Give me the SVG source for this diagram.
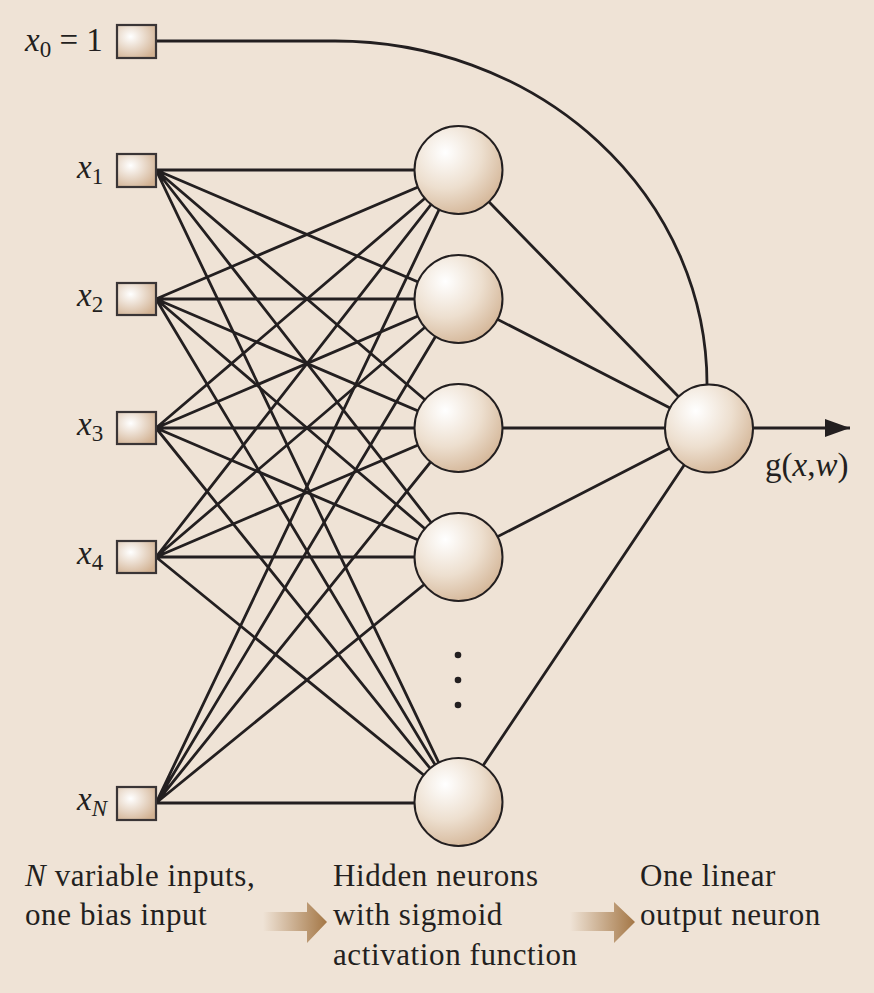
<svg xmlns="http://www.w3.org/2000/svg" width="874" height="993" viewBox="0 0 874 993">
<defs>
<radialGradient id="boxG" cx="0.35" cy="0.35" r="0.75">
<stop offset="0" stop-color="#ffffff"/>
<stop offset="1" stop-color="#d2b293"/>
</radialGradient>
<radialGradient id="ballG" cx="0.35" cy="0.3" r="0.75" fx="0.35" fy="0.3">
<stop offset="0" stop-color="#ffffff"/>
<stop offset="0.55" stop-color="#eddfcf"/>
<stop offset="1" stop-color="#d4b698"/>
</radialGradient>
<linearGradient id="arrG" x1="0" y1="0" x2="1" y2="0">
<stop offset="0" stop-color="#efe3d6"/>
<stop offset="1" stop-color="#a47746"/>
</linearGradient>
<marker id="ah" viewBox="0 0 25 18" refX="25" refY="9" markerWidth="25" markerHeight="18" markerUnits="userSpaceOnUse" orient="auto">
<path d="M0,0 L25,9 L0,18 z" fill="#231f20"/>
</marker>
<style>
.ln{stroke:#231f20;stroke-width:2.8;fill:none}
.box{fill:url(#boxG);stroke:#3a3536;stroke-width:2.2}
.ball{fill:url(#ballG);stroke:#231f20;stroke-width:2}
.lbl{font-family:"Liberation Serif","Times New Roman",serif;font-style:italic;font-size:33px;fill:#231f20}
.sub{font-family:"Liberation Serif","Times New Roman",serif;font-style:normal;font-size:23px}
.txt{font-family:"Liberation Serif","Times New Roman",serif;font-size:31px;letter-spacing:0.6px;fill:#231f20}
</style>
</defs>
<rect width="874" height="993" fill="#efe3d6"/>
<g id="connectors">
<path class="ln" d="M156,41 H335 A372,343 0 0 1 707,384"/>
<path class="ln" d="M156,170 L458,170 M156,170 L458,299 M156,170 L458,428 M156,170 L458,557 M156,170 L458,803"/>
<path class="ln" d="M156,299 L458,170 M156,299 L458,299 M156,299 L458,428 M156,299 L458,557 M156,299 L458,803"/>
<path class="ln" d="M156,428 L458,170 M156,428 L458,299 M156,428 L458,428 M156,428 L458,557 M156,428 L458,803"/>
<path class="ln" d="M156,557 L458,170 M156,557 L458,299 M156,557 L458,428 M156,557 L458,557 M156,557 L458,803"/>
<path class="ln" d="M156,803 L458,170 M156,803 L458,299 M156,803 L458,428 M156,803 L458,557 M156,803 L458,803"/>
<path class="ln" d="M458,170 L709,428 M458,299 L709,428 M458,428 L709,428 M458,557 L709,428 M458,803 L709,428"/>
<path class="ln" d="M753,428 L850,428" marker-end="url(#ah)"/>
</g>
<g id="in0"><rect class="box" x="117" y="25" width="39" height="33"/><text class="lbl" x="25" y="51">x<tspan class="sub" dy="6">0</tspan><tspan dy="-6" style="font-style:normal"> = 1</tspan></text></g>
<g id="in1"><rect class="box" x="117" y="154" width="39" height="33"/><text class="lbl" x="77" y="178">x<tspan class="sub" dy="6">1</tspan></text></g>
<g id="in2"><rect class="box" x="117" y="283" width="39" height="32"/><text class="lbl" x="77" y="306">x<tspan class="sub" dy="6">2</tspan></text></g>
<g id="in3"><rect class="box" x="117" y="412" width="39" height="32"/><text class="lbl" x="77" y="435">x<tspan class="sub" dy="6">3</tspan></text></g>
<g id="in4"><rect class="box" x="117" y="541" width="39" height="32"/><text class="lbl" x="77" y="564">x<tspan class="sub" dy="6">4</tspan></text></g>
<g id="inN"><rect class="box" x="117" y="787" width="39" height="33"/><text class="lbl" x="77" y="810">x<tspan class="sub" dy="6" style="font-style:italic">N</tspan></text></g>
<g id="h1"><circle class="ball" cx="458.5" cy="170" r="44"/></g>
<g id="h2"><circle class="ball" cx="458.5" cy="299" r="44"/></g>
<g id="h3"><circle class="ball" cx="458.5" cy="428" r="44"/></g>
<g id="h4"><circle class="ball" cx="458.5" cy="557" r="44"/></g>
<g id="dots" fill="#231f20"><circle cx="458" cy="655" r="3.3"/><circle cx="458" cy="680" r="3.3"/><circle cx="458" cy="705" r="3.3"/></g>
<g id="hN"><circle class="ball" cx="458.5" cy="802" r="44"/></g>
<g id="out"><circle class="ball" cx="709" cy="428.5" r="44"/><text class="lbl" x="765" y="476" style="font-style:normal">g(<tspan style="font-style:italic">x</tspan>,<tspan style="font-style:italic">w</tspan>)</text></g>
<g id="captions">
<text class="txt" x="25" y="886"><tspan style="font-style:italic">N</tspan> variable inputs,</text>
<text class="txt" x="25" y="925">one bias input</text>
<text class="txt" x="333" y="886">Hidden neurons</text>
<text class="txt" x="333" y="925">with sigmoid</text>
<text class="txt" x="333" y="965">activation function</text>
<text class="txt" x="640" y="886">One linear</text>
<text class="txt" x="640" y="925">output neuron</text>
<path d="M263,912 H307 V902 L327,922 L307,943 V931 H263 z" fill="url(#arrG)"/>
<path d="M570,912 H614 V902 L635,922 L614,943 V931 H570 z" fill="url(#arrG)"/>
</g>
</svg>
